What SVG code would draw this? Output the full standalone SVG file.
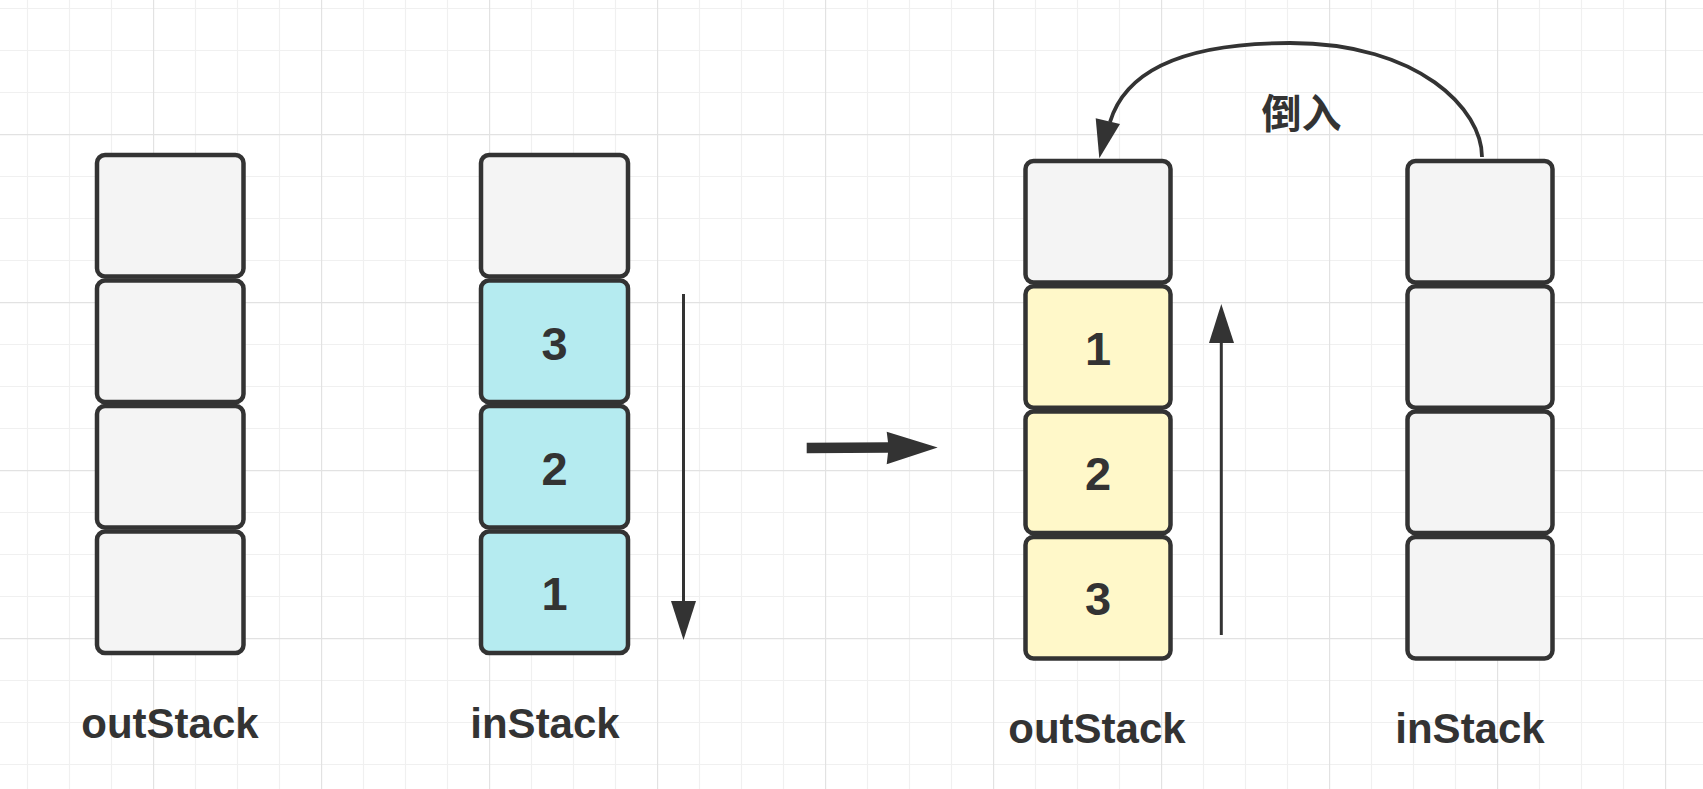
<svg xmlns="http://www.w3.org/2000/svg" width="1703" height="789" viewBox="0 0 1703 789">
<style>
.cell{stroke:#333333;stroke-width:4.5}
.g{fill:#f4f4f4}
.c{fill:#b5ebf0}
.y{fill:#fff8c9}
.num{font-family:"Liberation Sans",Arial,sans-serif;font-weight:bold;font-size:47px;fill:#333333;text-anchor:middle}
.lbl{font-family:"Liberation Sans",Arial,sans-serif;font-weight:bold;font-size:42px;fill:#333333;text-anchor:middle}
.cjk{font-family:"Liberation Sans","Noto Sans CJK SC",sans-serif;font-weight:bold;font-size:40px;fill:#333333;text-anchor:middle}
.ln{stroke:#333333;fill:none}
.hd{fill:#333333;stroke:none}
</style>
<defs>
<pattern id="grid" patternUnits="userSpaceOnUse" x="-15" y="-34" width="168" height="168">
<path d="M42.5 0V168M84.5 0V168M126.5 0V168M0 42.5H168M0 84.5H168M0 126.5H168" stroke="#f0f0f0" stroke-width="1.2" fill="none"/>
<path d="M0.5 0V168M0 0.5H168" stroke="#e2e2e2" stroke-width="1.4" fill="none"/>
</pattern>
</defs>
<rect width="1703" height="789" fill="#ffffff"/>
<rect width="1703" height="789" fill="url(#grid)"/>

<g id="outStack-left">
<rect class="cell g" x="97" y="155" width="146.5" height="121.5" rx="8"/>
<rect class="cell g" x="97" y="280.5" width="146.5" height="121.5" rx="8"/>
<rect class="cell g" x="97" y="406" width="146.5" height="121.5" rx="8"/>
<rect class="cell g" x="97" y="531.5" width="146.5" height="121.5" rx="8"/>
<text class="lbl" x="170" y="738">outStack</text>
</g>

<g id="inStack-left">
<rect class="cell g" x="481" y="155" width="147" height="121.5" rx="8"/>
<rect class="cell c" x="481" y="280.5" width="147" height="121.5" rx="8"/>
<rect class="cell c" x="481" y="406" width="147" height="121.5" rx="8"/>
<rect class="cell c" x="481" y="531.5" width="147" height="121.5" rx="8"/>
<text class="num" x="554.5" y="360">3</text>
<text class="num" x="554.5" y="485">2</text>
<text class="num" x="554.5" y="610">1</text>
<text class="lbl" x="545" y="738">inStack</text>
</g>

<g id="outStack-right">
<rect class="cell g" x="1025.5" y="161" width="145" height="121.5" rx="8"/>
<rect class="cell y" x="1025.5" y="286.3" width="145" height="121.5" rx="8"/>
<rect class="cell y" x="1025.5" y="411.6" width="145" height="121.5" rx="8"/>
<rect class="cell y" x="1025.5" y="536.9" width="145" height="121.5" rx="8"/>
<text class="num" x="1098" y="365">1</text>
<text class="num" x="1098" y="490">2</text>
<text class="num" x="1098" y="615">3</text>
<text class="lbl" x="1097" y="743">outStack</text>
</g>

<g id="inStack-right">
<rect class="cell g" x="1407.5" y="161" width="145" height="121.5" rx="8"/>
<rect class="cell g" x="1407.5" y="286.3" width="145" height="121.5" rx="8"/>
<rect class="cell g" x="1407.5" y="411.6" width="145" height="121.5" rx="8"/>
<rect class="cell g" x="1407.5" y="536.9" width="145" height="121.5" rx="8"/>
<text class="lbl" x="1470" y="743">inStack</text>
</g>

<g id="connectors">
<line class="ln" x1="683.5" y1="294" x2="683.5" y2="603" stroke-width="3"/>
<polygon class="hd" points="671,601 696,601 683.5,640"/>
<line class="ln" x1="1221.3" y1="635" x2="1221.3" y2="341" stroke-width="3"/>
<polygon class="hd" points="1209,343 1234,343 1221.3,304"/>
<polygon class="hd" points="806.7,442.7 888,442.2 886.7,431.7 937.7,447.5 886.7,464.3 888,452.8 806.7,453.3"/>
<path class="ln" stroke-width="3.8" d="M1482 157 C1482 110 1420 43 1290 43 C1180 43 1125 72 1110 122"/>
<polygon class="hd" points="1095.7,118.3 1120,124 1099.3,158.3"/>
<text class="cjk" x="1301.5" y="128">倒入</text>
</g>
</svg>
